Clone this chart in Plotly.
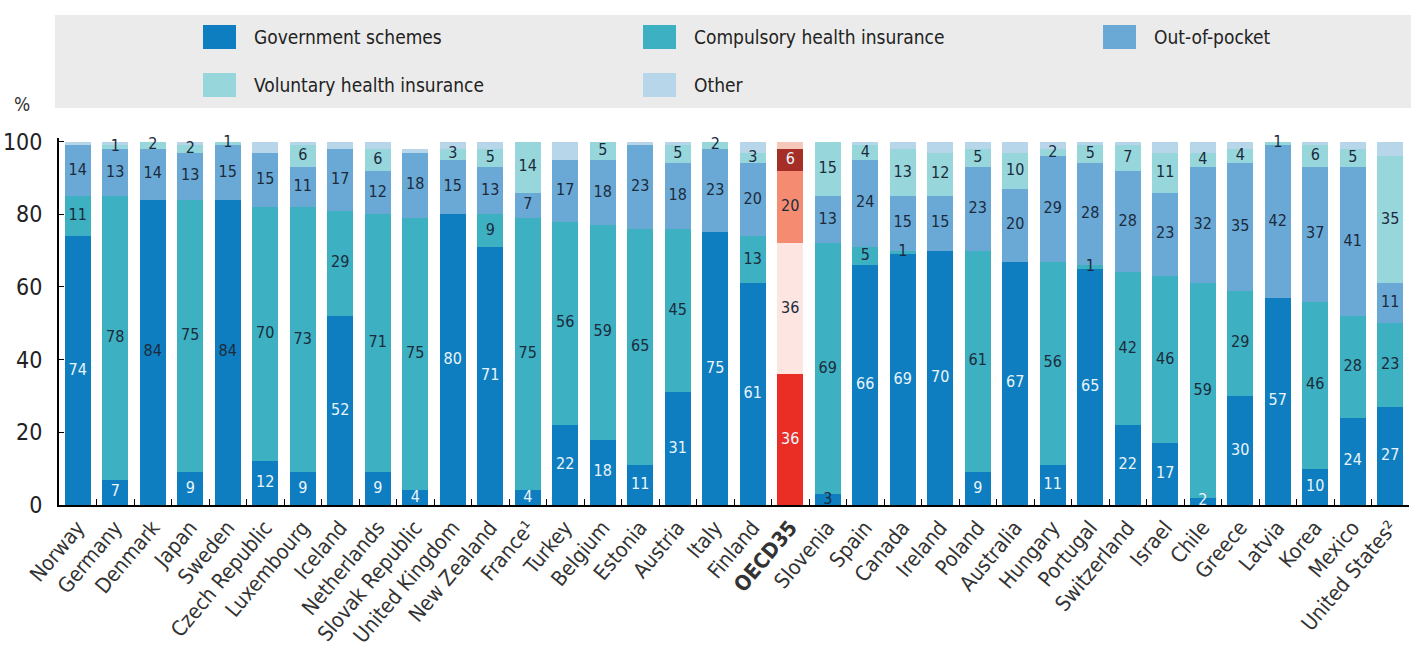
import plotly.graph_objects as go

# Health expenditure by financing scheme, share of current spending (%)
countries = ["Norway", "Germany", "Denmark", "Japan", "Sweden", "Czech Republic",
             "Luxembourg", "Iceland", "Netherlands", "Slovak Republic", "United Kingdom",
             "New Zealand", "France¹", "Turkey", "Belgium", "Estonia", "Austria", "Italy",
             "Finland", "OECD35", "Slovenia", "Spain", "Canada", "Ireland", "Poland",
             "Australia", "Hungary", "Portugal", "Switzerland", "Israel", "Chile", "Greece",
             "Latvia", "Korea", "Mexico", "United States²"]

government = [74, 7, 84, 9, 84, 12, 9, 52, 9, 4, 80, 71, 4, 22, 18, 11, 31, 75, 61, 36,
              3, 66, 69, 70, 9, 67, 11, 65, 22, 17, 2, 30, 57, 10, 24, 27]
compulsory = [11, 78, 0, 75, 0, 70, 73, 29, 71, 75, 0, 9, 75, 56, 59, 65, 45, 0, 13, 36,
              69, 5, 1, 0, 61, 0, 56, 1, 42, 46, 59, 29, 0, 46, 28, 23]
out_of_pocket = [14, 13, 14, 13, 15, 15, 11, 17, 12, 18, 15, 13, 7, 17, 18, 23, 18, 23, 20, 20,
                 13, 24, 15, 15, 23, 20, 29, 28, 28, 23, 32, 35, 42, 37, 41, 11]
voluntary = [0, 1, 2, 2, 1, 0, 6, 0, 6, 0, 3, 5, 14, 0, 5, 0, 5, 2, 3, 6,
             15, 4, 13, 12, 5, 10, 2, 5, 7, 11, 4, 4, 1, 6, 5, 35]
other = [1, 1, 0, 1, 0, 3, 1, 2, 2, 1, 2, 2, 0, 5, 0, 1, 1, 0, 3, 2,
         0, 1, 2, 3, 2, 3, 2, 1, 1, 3, 3, 2, 0, 1, 2, 4]

series_names = ["Government schemes", "Compulsory health insurance", "Out-of-pocket",
                "Voluntary health insurance", "Other"]
series_values = [government, compulsory, out_of_pocket, voluntary, other]
series_colors = ["#0f7ec0", "#3db0c1", "#6aa9d6", "#97d7dc", "#b8d6ea"]
oecd_colors = ["#ea2e25", "#fde6e1", "#f58c72", "#a52f27", "#f6c8bc"]
show_labels = [True, True, True, True, False]

LABEL_DARK = "#1c2b3c"
LABEL_LIGHT = "#eaf5fb"
FONT = "DejaVu Sans Condensed, Roboto, sans-serif"
OECD = "OECD35"
dark_gov_labels = {"Denmark", "Sweden", "Slovenia"}

fig = go.Figure()

# stacked segments
for name, vals, col, oc in zip(series_names, series_values, series_colors, oecd_colors):
    colors = [oc if c == OECD else col for c in countries]
    fig.add_trace(go.Bar(
        x=countries, y=vals, name=name, marker=dict(color=colors, line=dict(width=0)),
        showlegend=False, hoverinfo="x+y+name"))

# value labels, centred in each segment and drawn on top of all bars
base = [0] * len(countries)
for k, (name, vals, lab) in enumerate(zip(series_names, series_values, show_labels)):
    mids = [b + v / 2 for b, v in zip(base, vals)]
    base = [b + v for b, v in zip(base, vals)]
    if not lab:
        continue
    keep = [i for i, v in enumerate(vals) if v > 0]
    if k == 0:
        tcol = [LABEL_DARK if countries[i] in dark_gov_labels else LABEL_LIGHT for i in keep]
    elif k == 3:
        tcol = [LABEL_LIGHT if countries[i] == OECD else LABEL_DARK for i in keep]
    else:
        tcol = [LABEL_DARK] * len(keep)
    fig.add_trace(go.Scatter(
        x=[countries[i] for i in keep], y=[mids[i] for i in keep],
        text=[str(vals[i]) for i in keep], mode="text", textposition="middle center",
        textfont=dict(family=FONT, size=16, color=tcol),
        showlegend=False, hoverinfo="skip", cliponaxis=False))

tick_text = ["<b>%s</b>" % c if c == OECD else c for c in countries]

L, R, T, B = 59, 2, 138, 164
W, H = 1411, 669
PW, PH = W - L - R, H - T - B


def px_x(p):
    return (p - L) / PW


def px_y(p):
    return (H - B - p) / PH


shapes = [dict(type="rect", xref="paper", yref="paper",
               x0=px_x(55), x1=px_x(1411), y0=px_y(108), y1=px_y(15),
               fillcolor="#ebebeb", line=dict(width=0), layer="below")]
annotations = []
legend_slots = [(203, 37), (643, 37), (1103, 37), (203, 85), (643, 85)]
for (sx, sy), name, col in zip(legend_slots, series_names, series_colors):
    shapes.append(dict(type="rect", xref="paper", yref="paper",
                       x0=px_x(sx), x1=px_x(sx + 33), y0=px_y(sy + 12), y1=px_y(sy - 12),
                       fillcolor=col, line=dict(width=0)))
    annotations.append(dict(text=name, xref="paper", yref="paper", x=px_x(sx + 49), y=px_y(sy),
                            xanchor="left", yanchor="middle", showarrow=False,
                            font=dict(family=FONT, size=19, color="#222222")))
annotations.append(dict(text="%", xref="paper", yref="paper", x=px_x(22), y=px_y(104),
                        xanchor="center", yanchor="middle", showarrow=False,
                        font=dict(family=FONT, size=19, color="#333333")))

fig.update_layout(
    barmode="stack", bargap=0.3,
    width=W, height=H,
    margin=dict(l=L, r=R, t=T, b=B, pad=0),
    paper_bgcolor="white", plot_bgcolor="white",
    shapes=shapes, annotations=annotations,
    font=dict(family=FONT, color="#222222"),
    xaxis=dict(tickmode="array", tickvals=countries, ticktext=tick_text, tickangle=-50,
               tickfont=dict(family=FONT, size=21, color="#333333"),
               showline=True, linecolor="black", linewidth=2, ticks="inside",
               tickson="boundaries", ticklen=6, tickcolor="black", showgrid=False,
               range=[-0.5, len(countries) - 0.5], automargin=False),
    yaxis=dict(range=[0, 101], tickvals=[0, 20, 40, 60, 80, 100],
               tickfont=dict(family=FONT, size=23, color="#222222"),
               showline=True, linecolor="black", linewidth=2, ticks="inside",
               ticklen=5, tickcolor="black", showgrid=False, zeroline=False,
               ticklabelstandoff=10, automargin=False),
)

fig.write_html("out.html")
